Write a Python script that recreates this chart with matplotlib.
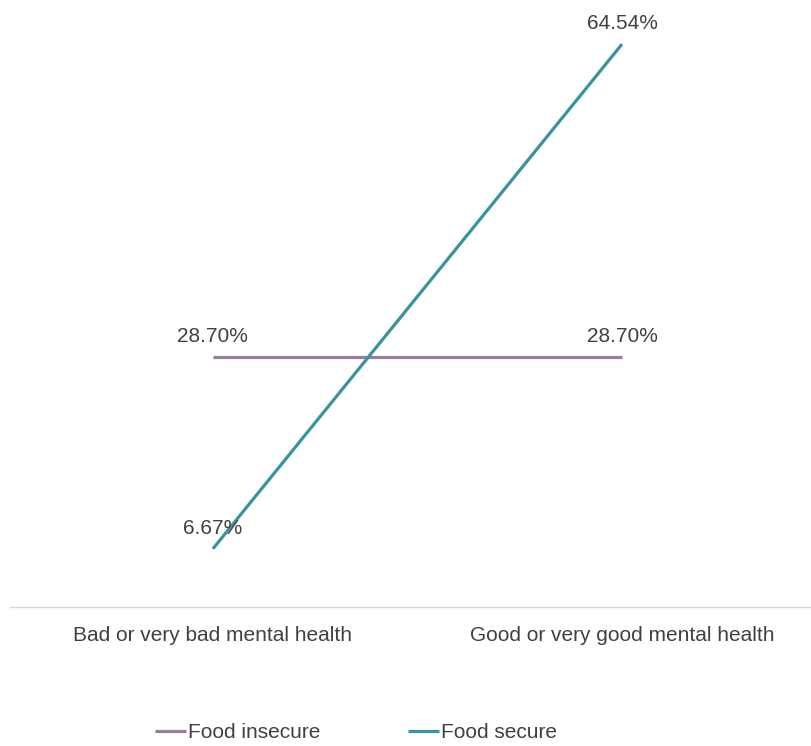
import matplotlib.pyplot as plt

categories = ["Bad or very bad mental health", "Good or very good mental health"]
food_insecure = [28.70, 28.70]
food_secure = [6.67, 64.54]

plt.rcParams['font.family'] = ['Liberation Sans', 'DejaVu Sans']

fig = plt.figure(figsize=(8.11, 7.46), dpi=100)
ax = fig.add_axes([10 / 811, 139 / 746, 801 / 811, 607 / 746])

purple = "#9c7ba3"
teal = "#3b939b"
text_col = "#404040"

x = [0, 1]
ax.plot(x, food_insecure, color=purple, lw=2.3, label="Food insecure", solid_capstyle='butt')
ax.plot(x, food_secure, color=teal, lw=2.3, label="Food secure", solid_capstyle='butt')

# value labels above each point
for series in (food_insecure, food_secure):
    for xi, v in zip(x, series):
        ax.annotate(f"{v:.2f}%", (xi, v), xytext=(0, 8), textcoords='offset points',
                    ha='center', va='bottom', fontsize=15, color=text_col)

ax.set_xlim(-0.496, 1.462)
ax.set_ylim(0, 69.6)
ax.set_xticks(x)
ax.set_xticklabels(categories, fontsize=15, color=text_col)
ax.tick_params(axis='x', length=0, pad=13.5)
ax.set_yticks([])
for side in ('top', 'right', 'left'):
    ax.spines[side].set_visible(False)
ax.spines['bottom'].set_color("#d9d9d9")
ax.spines['bottom'].set_linewidth(1)

fig.legend(loc='center', bbox_to_anchor=(356 / 811, 13 / 746), ncol=2, frameon=False,
           fontsize=15, handlelength=1.5, handletextpad=0.1, columnspacing=4.2,
           labelcolor=text_col)

fig.savefig("out.png", dpi=100)
